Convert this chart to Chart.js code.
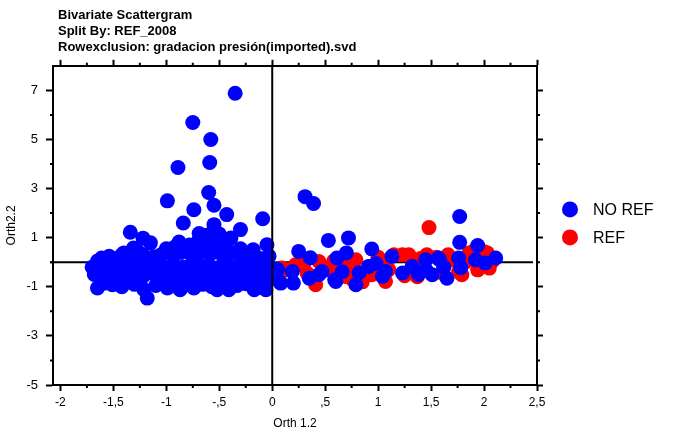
<!DOCTYPE html>
<html>
<head>
<meta charset="utf-8">
<script src="https://cdn.jsdelivr.net/npm/chart.js@4.4.1/dist/chart.umd.min.js"></script>
<style>
  body { margin: 0; background: #fff; }
  canvas { display: block; }
</style>
</head>
<body>
<canvas id="scatter" width="673" height="431"></canvas>
<script>
// data
const titleLines = ['Bivariate Scattergram', 'Split By: REF_2008', 'Rowexclusion: gradacion presión(imported).svd'];
const seriesNames = ['NO REF', 'REF'];
const xTicks = [-2, -1.5, -1, -0.5, 0, 0.5, 1, 1.5, 2, 2.5];
const xMinorTicks = [-1.75, -1.25, -0.75, -0.25, 0.25, 0.75, 1.25, 1.75, 2.25];
const yTicks = [-5, -3, -1, 1, 3, 5, 7];
const yMinorTicks = [-4, -2, 0, 2, 4, 6];

const noRefPoints = [
  // scattered above the main band
  [-0.35, 6.88], [-0.75, 5.69], [-0.58, 5.0], [-0.59, 4.06], [-0.89, 3.86], [-0.60, 2.84],
  [-0.99, 2.5], [0.31, 2.67], [0.39, 2.39], [-0.55, 2.32], [-0.74, 2.14], [-0.43, 1.94],
  [1.77, 1.86], [-0.09, 1.77], [-0.84, 1.6], [-0.55, 1.53], [-0.30, 1.33], [-1.34, 1.22],
  [-1.22, 0.98], [-1.15, 0.79], [-0.69, 1.17], [-0.39, 0.99], [-0.88, 0.82], [-0.05, 0.71],
  [-0.18, 0.51], [-1.40, 0.38], [-1.31, 0.58], [-1.61, 0.17], [-1.54, 0.24],
  [-1.27, 0.45], [-1.0, 0.55], [-0.92, 0.62], [-0.78, 0.7], [-0.7, 0.85], [-0.62, 0.95],
  [-0.5, 0.8], [-0.45, 0.6], [-0.56, 0.66], [-0.3, 0.55], [-0.25, 0.35], [-0.62, 1.1], [-0.5, 1.15],
  // main band left of zero
  [-1.65, 0.05], [-1.5, 0.15], [-1.42, 0.3], [-1.33, 0.2], [-1.22, 0.3], [-1.12, 0.22],
  [-1.05, 0.3], [-0.95, 0.35], [-0.86, 0.4], [-0.76, 0.3], [-0.67, 0.42], [-0.58, 0.35],
  [-0.47, 0.28], [-0.38, 0.4], [-0.29, 0.22], [-0.2, 0.3], [-0.11, 0.15], [-0.03, 0.25],
  [-1.7, -0.2], [-1.6, -0.1], [-1.52, -0.25], [-1.44, -0.05], [-1.36, -0.2], [-1.27, -0.1],
  [-1.18, -0.2], [-1.1, -0.05], [-1.02, -0.18], [-0.93, -0.08], [-0.84, -0.2], [-0.76, -0.05],
  [-0.68, -0.15], [-0.6, -0.1], [-0.51, -0.22], [-0.43, -0.05], [-0.35, -0.18], [-0.26, -0.08],
  [-0.18, -0.2], [-0.1, -0.1], [-0.02, -0.22], [0.05, -0.3],
  [-1.68, -0.5], [-1.58, -0.6], [-1.49, -0.45], [-1.4, -0.62], [-1.31, -0.5], [-1.22, -0.58],
  [-1.13, -0.45], [-1.04, -0.6], [-0.95, -0.5], [-0.87, -0.62], [-0.78, -0.48], [-0.7, -0.6],
  [-0.61, -0.5], [-0.53, -0.62], [-0.44, -0.48], [-0.36, -0.58], [-0.27, -0.45], [-0.19, -0.6],
  [-0.11, -0.5], [-0.03, -0.62],
  [-1.65, -1.05], [-1.58, -0.85], [-1.51, -0.92], [-1.42, -1.0], [-1.3, -0.9], [-1.21, -1.12],
  [-1.18, -1.46], [-1.1, -0.95], [-0.99, -1.05], [-0.92, -0.88], [-0.87, -1.12], [-0.8, -0.92],
  [-0.74, -1.05], [-0.66, -0.9], [-0.57, -1.0], [-0.52, -1.12], [-0.45, -0.9], [-0.41, -1.12],
  [-0.33, -0.95], [-0.24, -0.88], [-0.17, -1.12], [-0.12, -0.92], [-0.06, -1.12], [-0.09, -1.04],
  // right of zero
  [0.08, -0.85], [0.2, -0.85], [0.25, 0.44], [0.36, 0.18], [0.53, 0.89], [0.72, 0.99],
  [0.7, 0.38], [0.61, 0.17], [0.94, 0.54], [1.13, 0.24], [1.57, 0.17], [1.77, 0.81],
  [1.94, 0.68], [2.11, 0.17], [2.01, -0.03], [1.92, 0.1], [1.76, 0.17], [1.65, -0.65],
  [1.45, 0.1], [1.45, -0.3], [1.23, -0.44], [1.32, -0.17], [1.07, -0.38], [0.91, -0.17],
  [0.79, -0.92], [0.6, -0.78], [0.35, -0.65], [0.47, -0.38], [0.19, -0.38], [0.82, -0.43],
  [1.04, -0.58], [0.66, -0.39], [0.44, -0.51], [0.07, -0.8], [1.51, -0.51], [1.78, -0.22],
  [1.58, 0.1], [0.59, -0.71], [1.38, -0.5], [1.62, -0.2], [0.98, -0.05]
];

const refPoints = [
  [1.48, 1.41], [0.44, 0.03], [0.25, -0.1], [0.41, -0.92], [0.5, -0.31], [0.79, 0.1],
  [0.69, -0.58], [1.07, -0.78], [1.23, 0.3], [1.29, 0.3], [1.46, 0.3], [1.7, 0.1],
  [1.76, -0.38], [1.94, -0.31], [2.03, 0.38], [2.05, -0.24], [1.86, 0.38], [0.13, -0.31],
  [0.94, -0.51], [1.25, -0.55], [0.09, -0.23], [0.22, -0.1], [0.92, -0.18], [1.37, -0.59],
  [1.79, -0.51], [1.95, -0.22], [2.0, 0.43], [1.89, 0.43], [1.6, -0.43], [0.76, -0.71],
  [0.33, -0.45], [0.58, 0.05], [1.0, 0.2], [1.1, -0.3], [1.55, 0.2], [1.15, 0.3],
  [0.85, -0.8], [0.6, -0.5], [1.4, 0.15], [1.66, 0.3], [2.08, 0.05], [1.82, 0.0],
  [0.38, -0.7], [0.3, -0.05], [0.7, -0.2], [1.33, -0.2], [1.05, 0.05]
];

const colors = ['#0000ff', '#ff0000'];

Chart.defaults.font.family = 'Arial, "Liberation Sans", sans-serif';
Chart.defaults.color = '#000';

function fmtX(v) {
  if (v === 0) return '0';
  let s = String(Math.abs(v)).replace('.', ',');
  if (s.startsWith('0,')) s = s.slice(1);
  return (v < 0 ? '-' : '') + s;
}

// nudge the title block a little to the right of the plot's left edge
const titleNudge = {
  id: 'titleNudge',
  afterLayout(chart) {
    const t = chart.titleBlock;
    if (t) { t.left += 5; t.right += 5; }
  }
};

// zero lines: horizontal one under the points, vertical one over them
const zeroLines = {
  id: 'zeroLines',
  beforeDatasetsDraw(chart) {
    const { ctx, chartArea, scales } = chart;
    const y0 = scales.y.getPixelForValue(0);
    ctx.save();
    ctx.strokeStyle = '#000';
    ctx.lineWidth = 2;
    ctx.beginPath();
    ctx.moveTo(chartArea.left - 3, y0);
    ctx.lineTo(chartArea.right - 4, y0);
    ctx.stroke();
    ctx.restore();
  },
  afterDatasetsDraw(chart) {
    const { ctx, chartArea, scales } = chart;
    const x0 = scales.x.getPixelForValue(0);
    ctx.save();
    ctx.strokeStyle = '#000';
    ctx.lineWidth = 2;
    ctx.beginPath();
    ctx.moveTo(x0, chartArea.top);
    ctx.lineTo(x0, chartArea.bottom);
    ctx.stroke();
    ctx.restore();
  }
};

// short minor ticks on all four sides
const minorTicks = {
  id: 'minorTicks',
  afterDraw(chart) {
    const { ctx, chartArea, scales } = chart;
    ctx.save();
    ctx.strokeStyle = '#000';
    ctx.lineWidth = 2;
    ctx.beginPath();
    xMinorTicks.forEach(v => {
      const px = scales.x.getPixelForValue(v);
      ctx.moveTo(px, chartArea.bottom);
      ctx.lineTo(px, chartArea.bottom + 3);
      ctx.moveTo(px, chartArea.top);
      ctx.lineTo(px, chartArea.top - 3);
    });
    yMinorTicks.forEach(v => {
      const py = scales.y.getPixelForValue(v);
      ctx.moveTo(chartArea.left, py);
      ctx.lineTo(chartArea.left - 3, py);
      ctx.moveTo(chartArea.right, py);
      ctx.lineTo(chartArea.right + 3, py);
    });
    ctx.stroke();
    ctx.restore();
  }
};

// legend to the right of the plot
const sideLegend = {
  id: 'sideLegend',
  afterDraw(chart) {
    const { ctx, chartArea } = chart;
    const midY = (chartArea.top + chartArea.bottom) / 2;
    ctx.save();
    ctx.font = '16px Arial, "Liberation Sans", sans-serif';
    ctx.textBaseline = 'middle';
    chart.data.datasets.forEach((ds, i) => {
      const cx = chartArea.right + 33;
      const cy = midY - 16 + i * 28;
      ctx.fillStyle = ds.backgroundColor;
      ctx.beginPath();
      ctx.arc(cx, cy, 8, 0, Math.PI * 2);
      ctx.fill();
      ctx.fillStyle = '#000';
      ctx.fillText(ds.label, cx + 23, cy + 1);
    });
    ctx.restore();
  }
};

const axisGrid = {
  drawOnChartArea: false,
  drawTicks: true,
  tickLength: 6,
  tickWidth: 2,
  tickColor: '#000'
};
const axisBorder = { color: '#000', width: 2 };

const ctx = document.getElementById('scatter').getContext('2d');
new Chart(ctx, {
  type: 'scatter',
  data: {
    datasets: [{
      label: seriesNames[0],
      data: noRefPoints.map(p => ({ x: p[0], y: p[1] })),
      backgroundColor: colors[0],
      borderWidth: 0,
      pointRadius: 7.5,
      pointHoverRadius: 7.5
    }, {
      label: seriesNames[1],
      data: refPoints.map(p => ({ x: p[0], y: p[1] })),
      backgroundColor: colors[1],
      borderWidth: 0,
      pointRadius: 7.5,
      pointHoverRadius: 7.5
    }]
  },
  options: {
    responsive: false,
    animation: false,
    devicePixelRatio: 1,
    layout: { padding: 0 },
    plugins: {
      legend: { display: false },
      tooltip: { enabled: false },
      title: {
        display: true,
        text: titleLines,
        align: 'start',
        fullSize: false,
        color: '#000',
        font: { size: 13, weight: 'bold', lineHeight: 1.2 },
        padding: { top: 8, bottom: 4 }
      }
    },
    scales: {
      x: {
        type: 'linear',
        position: 'bottom',
        min: -2.07,
        max: 2.5,
        afterBuildTicks: axis => { axis.ticks = xTicks.map(v => ({ value: v })); },
        afterFit: axis => { axis.height = 46; },
        ticks: { font: { size: 12 }, padding: 4, maxRotation: 0, autoSkip: false, callback: v => fmtX(v) },
        grid: axisGrid,
        border: axisBorder,
        title: { display: true, text: 'Orth 1.2', font: { size: 12 }, padding: { top: 2, bottom: 0 } }
      },
      x2: {
        type: 'linear',
        axis: 'x',
        position: 'top',
        min: -2.07,
        max: 2.5,
        afterBuildTicks: axis => { axis.ticks = xTicks.map(v => ({ value: v })); },
        afterFit: axis => { axis.height = 7; },
        ticks: { display: false },
        grid: axisGrid,
        border: axisBorder
      },
      y: {
        type: 'linear',
        position: 'left',
        min: -5,
        max: 8,
        afterBuildTicks: axis => { axis.ticks = yTicks.map(v => ({ value: v })); },
        afterFit: axis => { axis.width = 53; },
        ticks: { font: { size: 13 }, padding: 8, autoSkip: false },
        grid: Object.assign({}, axisGrid, { tickLength: 7 }),
        border: axisBorder,
        title: { display: true, text: 'Orth2.2', font: { size: 12 }, padding: { top: 4, bottom: 0 } }
      },
      y2: {
        type: 'linear',
        axis: 'y',
        position: 'right',
        min: -5,
        max: 8,
        afterBuildTicks: axis => { axis.ticks = yTicks.map(v => ({ value: v })); },
        afterFit: axis => { axis.width = 136; },
        ticks: { display: false },
        grid: axisGrid,
        border: axisBorder
      }
    }
  },
  plugins: [titleNudge, zeroLines, minorTicks, sideLegend]
});
</script>
</body>
</html>
